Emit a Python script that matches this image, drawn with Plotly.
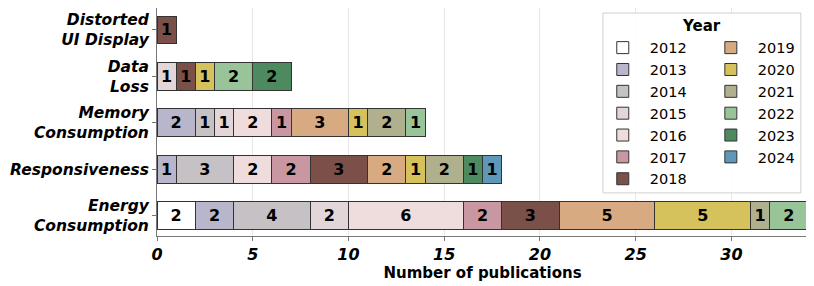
import plotly.graph_objects as go

categories = ["Energy Consumption", "Responsiveness", "Memory Consumption", "Data Loss", "Distorted UI Display"]
tick_labels = ["Energy<br>Consumption", "Responsiveness", "Memory<br>Consumption", "Data<br>Loss", "Distorted<br>UI Display"]
years = ["2012", "2013", "2014", "2015", "2016", "2017", "2018", "2019", "2020", "2021", "2022", "2023", "2024"]
values = {
    "2012": [2, 0, 0, 0, 0],
    "2013": [2, 1, 2, 0, 0],
    "2014": [4, 3, 1, 0, 0],
    "2015": [2, 0, 1, 1, 0],
    "2016": [6, 2, 2, 0, 0],
    "2017": [2, 2, 1, 0, 0],
    "2018": [3, 3, 0, 1, 1],
    "2019": [5, 2, 3, 0, 0],
    "2020": [5, 1, 1, 1, 0],
    "2021": [1, 2, 2, 0, 0],
    "2022": [2, 0, 1, 2, 0],
    "2023": [0, 1, 0, 2, 0],
    "2024": [0, 1, 0, 0, 0],
}
colors = ["#ffffff", "#b7b6cb", "#c5c1c4", "#e3d6d9", "#efdcdc", "#c997a1", "#7b5049",
          "#d8aa82", "#d5c25c", "#b0af8e", "#99c499", "#4e8a5f", "#5f97b8"]

FONT = "DejaVu Sans"
fig = go.Figure()
for i, (yr, col) in enumerate(zip(years, colors)):
    xs = [v if v > 0 else None for v in values[yr]]
    fig.add_trace(go.Bar(
        y=tick_labels, x=xs, orientation="h", name=yr,
        marker=dict(color=col, line=dict(color="#333333", width=1)),
        text=[str(v) if v > 0 else "" for v in values[yr]],
        textposition="inside", insidetextanchor="middle", textangle=0,
        insidetextfont=dict(family=FONT, size=16, color="black", weight="bold"),
        legend="legend" if i < 7 else "legend2",
    ))

# the page body adds an 8px offset, so the figure is sized to fill the rest of the window
fig.update_layout(
    barmode="stack", bargap=0.4,
    width=806, height=278,
    margin=dict(l=149, r=6, t=0, b=50, autoexpand=False),
    paper_bgcolor="white", plot_bgcolor="white",
    font=dict(family=FONT, size=14, color="black"),
    legend=dict(x=0.674, y=0.896, xanchor="left", yanchor="top", bgcolor="rgba(0,0,0,0)",
                font=dict(family=FONT, size=14.5), tracegroupgap=0, traceorder="normal",
                itemwidth=44),
    legend2=dict(x=0.840, y=0.896, xanchor="left", yanchor="top", bgcolor="rgba(0,0,0,0)",
                 font=dict(family=FONT, size=14.5), tracegroupgap=0, traceorder="normal",
                 itemwidth=44),
    shapes=[dict(type="rect", xref="paper", yref="paper", x0=0.685, x1=0.989, y0=0.189, y1=0.978,
                 fillcolor="rgba(255,255,255,0.9)", line=dict(color="#d0d0d0", width=1), layer="above")],
    annotations=[dict(text="<b>Year</b>", xref="paper", yref="paper", x=0.837, y=0.921,
                      xanchor="center", yanchor="middle", showarrow=False,
                      font=dict(family=FONT, size=15, color="black"))],
)
fig.update_xaxes(
    range=[0, 34], dtick=5, showgrid=True, gridcolor="#e6e6e6", gridwidth=1,
    showline=True, linecolor="#777777", linewidth=1, mirror=True,
    ticks="outside", ticklen=4, tickcolor="#777777", zeroline=False, automargin=False,
    tickfont=dict(family=FONT, size=16, weight="bold", style="italic"),
    title=dict(text="<b>Number of publications</b>", font=dict(family=FONT, size=15), standoff=0),
)
fig.update_yaxes(
    range=[-0.442, 4.474], showgrid=False, automargin=False,
    showline=True, linecolor="#777777", linewidth=1, mirror=True,
    ticks="outside", ticklen=4, tickcolor="#777777", ticklabelstandoff=0,
    tickfont=dict(family=FONT, size=15.5, weight="bold", style="italic"),
)
fig.write_html("out.html")
